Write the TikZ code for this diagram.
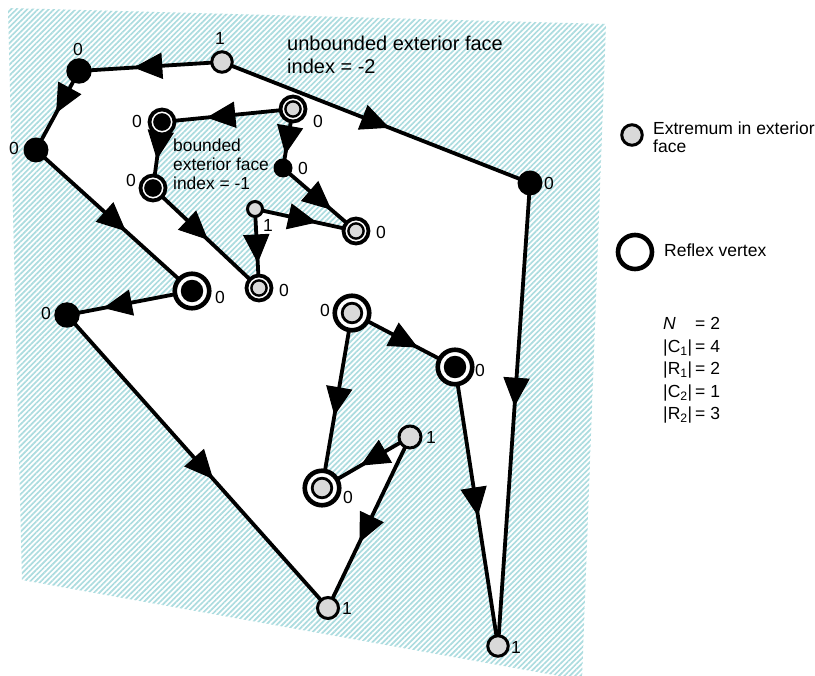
\documentclass[tikz,border=0pt]{standalone}
\usepackage{fontspec}
\setmainfont{Liberation Sans}
\usetikzlibrary{decorations.markings,patterns.meta}

\definecolor{hatchteal}{RGB}{172,220,223}
\definecolor{vgray}{RGB}{217,217,217}

\pgfdeclarelayer{back}
\pgfdeclarelayer{edges}
\pgfsetlayers{back,edges,main}

\tikzset{
  dirseg/.style={line width=3.8pt, postaction=decorate,
    decoration={markings, mark=at position #1 with
      {\filldraw[black, line width=1pt, line join=miter] (0pt,0pt) -- (-27pt,12.5pt) -- (-27pt,-12.5pt) -- cycle;}}},
  gv/.style={circle, draw=black, fill=vgray, line width=3pt, inner sep=0pt, minimum size=#1},
  bv/.style={circle, fill=black, inner sep=0pt, minimum size=#1},
  rfxL/.style={circle, draw=black, fill=white, line width=4.6pt, inner sep=0pt, minimum size=34.5pt,
    path picture={\filldraw[fill=#1, draw=black, line width=2.8pt]
      (path picture bounding box.center) circle (9.8pt);}},
  rfxS/.style={circle, draw=black, fill=white, line width=3.8pt, inner sep=0pt, minimum size=25pt,
    path picture={\filldraw[fill=#1, draw=black, line width=2.4pt]
      (path picture bounding box.center) circle (7.6pt);}},
  num/.style={font=\fontsize{17.5}{18}\selectfont, inner sep=0pt},
  txt/.style={anchor=base west, inner sep=0pt, font=\fontsize{#1}{#1}\selectfont},
}

\begin{document}
\begin{tikzpicture}[x=1pt, y=-1pt]
\useasboundingbox (0,0) rectangle (815,676);

% corners of the hatched plane
\coordinate (h1) at (8,8);
\coordinate (h2) at (606,24);
\coordinate (h3) at (582,680);
\coordinate (h4) at (22,580);

% outer cycle
\node[gv=20.5pt] (A) at (222,62) {};
\node[bv=25.5pt] (B) at (79,71) {};
\node[bv=25pt]   (C) at (36,150) {};
\node[rfxL=black] (D) at (192,291) {};
\node[bv=25.5pt] (E) at (67,315) {};
\node[gv=21pt]   (F) at (328,608) {};
\node[gv=22pt]   (G) at (410,437) {};
\node[rfxL=vgray] (H) at (322,488) {};
\node[rfxL=vgray] (I) at (352,313) {};
\node[rfxL=black] (J) at (455,367) {};
\node[gv=20.5pt] (K) at (498,646) {};
\node[bv=25pt]   (L) at (530,183) {};

% inner cycle
\node[rfxS=vgray] (M) at (293,109) {};
\node[rfxS=black] (N) at (162,122) {};
\node[rfxS=black] (O) at (153,188) {};
\node[rfxS=vgray] (P) at (259,288) {};
\node[gv=15pt]   (Q) at (255,209) {};
\node[rfxS=vgray] (R) at (356,231) {};
\node[bv=19pt]   (S) at (283,168) {};

% vertex indices
\node[num] (nA) at (220,38) {1};
\node[num] (nB) at (78,49) {0};
\node[num] (nC) at (14,148) {0};
\node[num] (nD) at (220,297) {0};
\node[num] (nE) at (46,313) {0};
\node[num] (nF) at (347,608) {1};
\node[num] (nG) at (431,437) {1};
\node[num] (nH) at (348,497) {0};
\node[num] (nI) at (325,310) {0};
\node[num] (nJ) at (480,370) {0};
\node[num] (nK) at (516,647) {1};
\node[num] (nL) at (549,183) {0};
\node[num] (nM) at (318,121) {0};
\node[num] (nN) at (137,121) {0};
\node[num] (nO) at (131,180) {0};
\node[num] (nP) at (284,290) {0};
\node[num] (nQ) at (268,225) {1};
\node[num] (nR) at (381,232) {0};
\node[num] (nS) at (303,168) {0};

% face annotations
\node[txt=20] (u1) at (287,50.7) {unbounded exterior face};
\node[txt=20] (u2) at (287,73.3) {index = -2};
\node[txt=17.4] (b1) at (173,151.7) {bounded};
\node[txt=17.4] (b2) at (173,171) {exterior face};
\node[txt=17.4] (b3) at (173,189.5) {index = -1};

% legend
\node[gv=20.5pt] (lg1) at (632,135) {};
\node[txt=17.5] (lt1) at (653,135) {Extremum in exterior};
\node[txt=17.5] (lt2) at (653,153) {face};
\node[circle, draw=black, fill=white, line width=4.6pt, inner sep=0pt, minimum size=34pt] (lg2) at (635,252) {};
\node[txt=17.5] (lt3) at (664,257) {Reflex vertex};

% counts
\node[txt=17.5] (s1a) at (663,330) {\textit{N}};
\node[txt=17.5] (s1b) at (695,330) {= 2};
\node[txt=17.5] (s2a) at (663,352.5) {|C\textsubscript{1}|};
\node[txt=17.5] (s2b) at (695,352.5) {= 4};
\node[txt=17.5] (s3a) at (663,375) {|R\textsubscript{1}|};
\node[txt=17.5] (s3b) at (695,375) {= 2};
\node[txt=17.5] (s4a) at (663,397.5) {|C\textsubscript{2}|};
\node[txt=17.5] (s4b) at (695,397.5) {= 1};
\node[txt=17.5] (s5a) at (663,420) {|R\textsubscript{2}|};
\node[txt=17.5] (s5b) at (695,420) {= 3};

\begin{pgfonlayer}{back}
  \fill[white] (0,0) rectangle (815,676);
  \fill[pattern={Lines[angle=45, distance=3.8pt, line width=1.7pt]}, pattern color=hatchteal]
    (h1) -- (h2) -- (h3) -- (h4) -- cycle;
  % interior of the outer cycle, minus the bounded exterior face
  \fill[white, even odd rule]
    (A.center) -- (B.center) -- (C.center) -- (D.center) -- (E.center) -- (F.center)
    -- (G.center) -- (H.center) -- (I.center) -- (J.center) -- (K.center) -- (L.center) -- cycle
    (M.center) -- (N.center) -- (O.center) -- (P.center) -- (Q.center) -- (R.center)
    -- (S.center) -- cycle;
\end{pgfonlayer}

\begin{pgfonlayer}{edges}
  \draw[dirseg=0.61]  (A.center) -- (B.center);
  \draw[dirseg=0.52]  (B.center) -- (C.center);
  \draw[dirseg=0.57]  (C.center) -- (D.center);
  \draw[dirseg=0.70]  (D.center) -- (E.center);
  \draw[dirseg=0.557] (E.center) -- (F.center);
  \draw[dirseg=0.61]  (G.center) -- (F.center);
  \draw[dirseg=0.55]  (G.center) -- (H.center);
  \draw[dirseg=0.58]  (I.center) -- (H.center);
  \draw[dirseg=0.63]  (I.center) -- (J.center);
  \draw[dirseg=0.53]  (J.center) -- (K.center);
  \draw[dirseg=0.48]  (L.center) -- (K.center);
  \draw[dirseg=0.54]  (A.center) -- (L.center);
  \draw[dirseg=0.65]  (M.center) -- (N.center);
  \draw[dirseg=0.55]  (N.center) -- (O.center);
  \draw[dirseg=0.51]  (O.center) -- (P.center);
  \draw[dirseg=0.67]  (Q.center) -- (P.center);
  \draw[dirseg=0.60]  (Q.center) -- (R.center);
  \draw[dirseg=0.65]  (S.center) -- (R.center);
  \draw[dirseg=0.75]  (M.center) -- (S.center);
\end{pgfonlayer}
\end{tikzpicture}
\end{document}
